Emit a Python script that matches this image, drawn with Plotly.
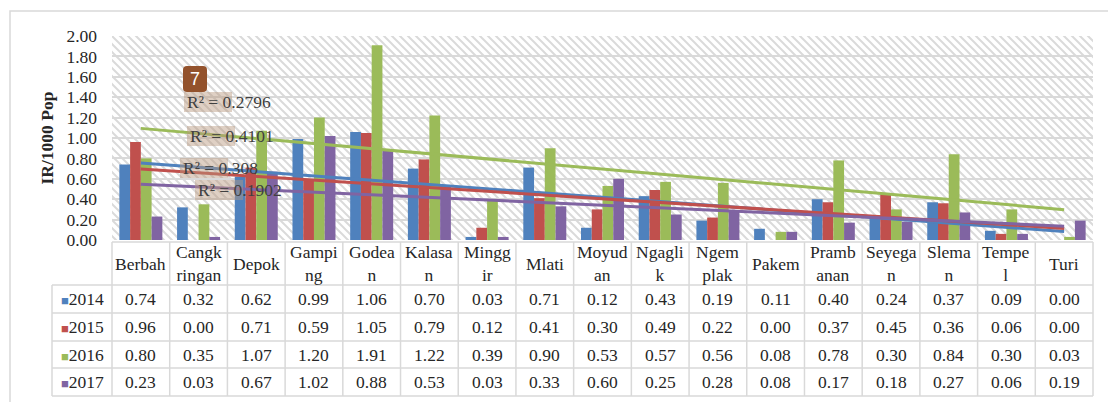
import re
import base64
import numpy as np
import plotly.graph_objects as go

# ---------------- data ----------------
categories = ["Berbah", "Cangkringan", "Depok", "Gamping", "Godean", "Kalasan", "Minggir",
              "Mlati", "Moyudan", "Ngaglik", "Ngemplak", "Pakem", "Prambanan", "Seyegan",
              "Sleman", "Tempel", "Turi"]
header_labels = ["Berbah", "Cangk<br>ringan", "Depok", "Gampi<br>ng", "Godea<br>n", "Kalasa<br>n",
                 "Mingg<br>ir", "Mlati", "Moyud<br>an", "Ngagli<br>k", "Ngem<br>plak", "Pakem",
                 "Pramb<br>anan", "Seyega<br>n", "Slema<br>n", "Tempe<br>l", "Turi"]
years = ["2014", "2015", "2016", "2017"]
v2014 = [0.74, 0.32, 0.62, 0.99, 1.06, 0.70, 0.03, 0.71, 0.12, 0.43, 0.19, 0.11, 0.40, 0.24, 0.37, 0.09, 0.00]
v2015 = [0.96, 0.00, 0.71, 0.59, 1.05, 0.79, 0.12, 0.41, 0.30, 0.49, 0.22, 0.00, 0.37, 0.45, 0.36, 0.06, 0.00]
v2016 = [0.80, 0.35, 1.07, 1.20, 1.91, 1.22, 0.39, 0.90, 0.53, 0.57, 0.56, 0.08, 0.78, 0.30, 0.84, 0.30, 0.03]
v2017 = [0.23, 0.03, 0.67, 1.02, 0.88, 0.53, 0.03, 0.33, 0.60, 0.25, 0.28, 0.08, 0.17, 0.18, 0.27, 0.06, 0.19]
series = [v2014, v2015, v2016, v2017]
r2_labels = ["R² = 0.2796", "R² = 0.4101", "R² = 0.308", "R² = 0.1902"]
y_ticks = [0.0, 0.2, 0.4, 0.6, 0.8, 1.0, 1.2, 1.4, 1.6, 1.8, 2.0]

colors = ["#4F81BD", "#C0504D", "#9BBB59", "#8064A2"]
FONT = "Liberation Serif"
FS = 17.5
TXT = "#262626"

# ---------------- geometry helpers ----------------
W, H = 1108, 402
L, R, T, B = 112, 1093, 36, 240


def px(X):
    return (X - L) / (R - L)


def py(Y):
    return (B - Y) / (B - T)


n = len(categories)
xs = np.arange(n)

fig = go.Figure()

for name, vals, c in zip(years, series, colors):
    fig.add_trace(go.Bar(x=xs, y=vals, name=name, marker=dict(color=c, line=dict(width=0)),
                         showlegend=False))

# linear trendlines (Excel-style, x = 1..n)
xfit = np.arange(1, n + 1)
for vals, c in zip(series, colors):
    k, b0 = np.polyfit(xfit, np.array(vals), 1)
    fig.add_trace(go.Scatter(x=[xs[0], xs[-1]], y=[k * xfit[0] + b0, k * xfit[-1] + b0],
                             mode="lines", line=dict(color=c, width=3),
                             hoverinfo="skip", showlegend=False))

# hatched plot-area background as an inline SVG image
pw, ph = R - L, B - T
svg = (f"<svg xmlns='http://www.w3.org/2000/svg' width='{pw}' height='{ph}'>"
       "<defs><pattern id='p' width='8' height='8' patternUnits='userSpaceOnUse'>"
       "<path d='M-2,6 L2,10 M0,0 L8,8 M6,-2 L10,2' stroke='#dadada' stroke-width='2'/>"
       "</pattern></defs><rect width='100%' height='100%' fill='url(#p)'/></svg>")
svg_uri = "data:image/svg+xml;base64," + base64.b64encode(svg.encode()).decode()

shapes = []
annotations = []
grid = "#d9d9d9"

# outer chart frame
shapes.append(dict(type="rect", xref="paper", yref="paper", x0=px(10), x1=px(1130),
                   y0=py(11), y1=py(430), line=dict(color=grid, width=1.5), layer="below"))

# ---------------- data table ----------------
row_edges = [242, 285, 313, 341, 368, 396]
cell_w = (R - L) / n
shapes.append(dict(type="line", xref="paper", yref="paper", x0=px(L), x1=px(R),
                   y0=py(row_edges[0]), y1=py(row_edges[0]), line=dict(color=grid, width=1.5)))
for yy in row_edges[1:]:
    shapes.append(dict(type="line", xref="paper", yref="paper", x0=px(52), x1=px(R),
                       y0=py(yy), y1=py(yy), line=dict(color=grid, width=1.5)))
for k in range(n + 1):
    X = L + k * cell_w
    shapes.append(dict(type="line", xref="paper", yref="paper", x0=px(X), x1=px(X),
                       y0=py(row_edges[0]), y1=py(row_edges[-1]), line=dict(color=grid, width=1.5)))
shapes.append(dict(type="line", xref="paper", yref="paper", x0=px(52), x1=px(52),
                   y0=py(row_edges[1]), y1=py(row_edges[-1]), line=dict(color=grid, width=1.5)))

hdr_c = (row_edges[0] + row_edges[1]) / 2
for i, lab in enumerate(header_labels):
    annotations.append(dict(x=i, y=py(hdr_c), xref="x", yref="paper", text=lab, showarrow=False,
                            font=dict(family=FONT, size=FS, color=TXT), xanchor="center",
                            yanchor="middle", align="center"))
for r, (name, vals, c) in enumerate(zip(years, series, colors)):
    yc = (row_edges[r + 1] + row_edges[r + 2]) / 2
    annotations.append(dict(x=px(82), y=py(yc), xref="paper", yref="paper",
                            text=f"<span style='color:{c};font-size:13px'>■</span>{name}",
                            showarrow=False, font=dict(family=FONT, size=FS, color=TXT),
                            xanchor="center", yanchor="middle"))
    for i, v in enumerate(vals):
        annotations.append(dict(x=i, y=py(yc), xref="x", yref="paper", text=f"{v:.2f}",
                                showarrow=False, font=dict(family=FONT, size=FS, color=TXT),
                                xanchor="center", yanchor="middle"))

# ---------------- R² labels ----------------
r2_pos = [(185, 102), (188, 136), (181, 168), (196, 190)]
hl_w = 47
for lab, (X, Y) in zip(r2_labels, r2_pos):
    shapes.append(dict(type="rect", xref="paper", yref="paper", x0=px(X - 1), x1=px(X + hl_w),
                       y0=py(Y - 10), y1=py(Y + 10), fillcolor="rgba(185,150,125,0.45)",
                       line=dict(width=0), layer="above"))
    annotations.append(dict(x=px(X), y=py(Y), xref="paper", yref="paper", text=lab,
                            showarrow=False, font=dict(family=FONT, size=FS, color="#404040"),
                            xanchor="left", yanchor="middle"))

# "7" badge
bx0, bx1, by0, by1, rr = 183, 207, 66, 92, 4
path = (f"M {bx0 + rr} {by0} L {bx1 - rr} {by0} Q {bx1} {by0} {bx1} {by0 + rr} "
        f"L {bx1} {by1 - rr} Q {bx1} {by1} {bx1 - rr} {by1} L {bx0 + rr} {by1} "
        f"Q {bx0} {by1} {bx0} {by1 - rr} L {bx0} {by0 + rr} Q {bx0} {by0} {bx0 + rr} {by0} Z")


def conv(m):
    X, Y = float(m.group(1)), float(m.group(2))
    return f"{px(X):.5f},{py(Y):.5f}"


path_paper = re.sub(r"(-?\d+\.?\d*) (-?\d+\.?\d*)", conv, path)
shapes.append(dict(type="path", xref="paper", yref="paper", path=path_paper,
                   fillcolor="#93522C", line=dict(width=0), layer="above"))
annotations.append(dict(x=px((bx0 + bx1) / 2), y=py((by0 + by1) / 2), xref="paper", yref="paper",
                        text="7", showarrow=False,
                        font=dict(family="Liberation Sans", size=18, color="white"),
                        xanchor="center", yanchor="middle"))

fig.update_layout(
    width=W, height=H,
    margin=dict(l=L, r=W - R, t=T, b=H - B),
    paper_bgcolor="white", plot_bgcolor="rgba(0,0,0,0)",
    barmode="group", bargap=0.255, bargroupgap=0,
    showlegend=False,
    shapes=shapes, annotations=annotations,
    images=[dict(source=svg_uri, xref="paper", yref="paper", x=0, y=1, sizex=1, sizey=1,
                 xanchor="left", yanchor="top", sizing="stretch", layer="below")],
    xaxis=dict(range=[-0.5, n - 0.5], showticklabels=False, showgrid=False, zeroline=False,
               ticks="", showline=False, fixedrange=True),
    yaxis=dict(range=[0, 2], tickvals=y_ticks, tickformat=".2f", showgrid=True, gridcolor=grid,
               gridwidth=2, zeroline=False, showline=False, ticks="", ticklabelstandoff=14,
               tickfont=dict(family=FONT, size=FS, color=TXT),
               title=dict(text="<b>IR/1000 Pop</b>", font=dict(family=FONT, size=FS, color=TXT),
                          standoff=8)),
)

fig.write_html("out.html", config={"displayModeBar": False},
               post_script="document.body.style.margin='0';")
